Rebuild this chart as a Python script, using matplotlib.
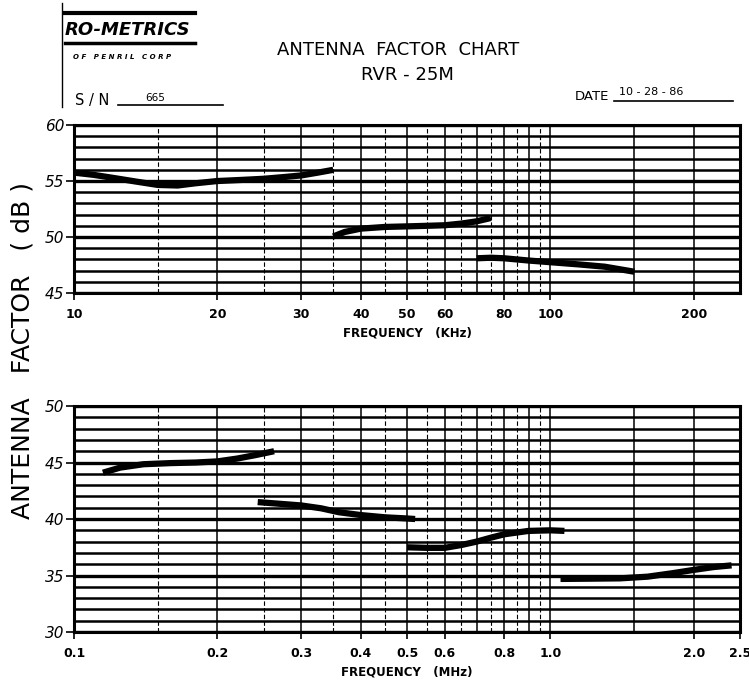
import numpy as np
import matplotlib.pyplot as plt
from matplotlib.lines import Line2D

# ---- data ----
khz_grid_major = [10, 20, 30, 40, 50, 60, 70, 80, 90, 100, 150, 200]
khz_grid_minor = [15, 25, 35, 45, 55, 65, 75, 85, 95]
khz_ticks = [10, 20, 30, 40, 50, 60, 80, 100, 200]
khz_tick_labels = ['10', '20', '30', '40', '50', '60', '80', '100', '200']

mhz_grid_major = [0.1, 0.2, 0.3, 0.4, 0.5, 0.6, 0.7, 0.8, 0.9, 1.0, 1.5, 2.0]
mhz_grid_minor = [0.15, 0.25, 0.35, 0.45, 0.55, 0.65, 0.75, 0.85, 0.95]
mhz_ticks = [0.1, 0.2, 0.3, 0.4, 0.5, 0.6, 0.8, 1.0, 2.0, 2.5]
mhz_tick_labels = ['0.1', '0.2', '0.3', '0.4', '0.5', '0.6', '0.8', '1.0', '2.0', '2.5']

# top chart (kHz) segments
seg1_f = [10, 11, 12, 13.5, 15, 16.5, 18, 20, 22.5, 25, 27.5, 30, 32.5, 35]
seg1_af = [55.75, 55.55, 55.3, 54.95, 54.65, 54.6, 54.8, 55.0, 55.1, 55.2, 55.35, 55.5, 55.75, 56.0]
seg2_f = [35, 37, 40, 45, 50, 55, 60, 65, 70, 75]
seg2_af = [50.05, 50.45, 50.75, 50.9, 50.95, 51.0, 51.05, 51.2, 51.4, 51.7]
seg3_f = [70, 75, 80, 90, 100, 115, 130, 150]
seg3_af = [48.1, 48.15, 48.1, 47.9, 47.75, 47.55, 47.35, 46.9]

# bottom chart (MHz) segments
seg4_f = [0.115, 0.125, 0.14, 0.16, 0.18, 0.2, 0.22, 0.24, 0.263]
seg4_af = [44.1, 44.55, 44.85, 44.95, 45.0, 45.1, 45.35, 45.65, 46.0]
seg5_f = [0.243, 0.27, 0.3, 0.33, 0.36, 0.4, 0.45, 0.5, 0.52]
seg5_af = [41.5, 41.35, 41.2, 40.95, 40.6, 40.35, 40.15, 40.05, 40.0]
seg6_f = [0.5, 0.55, 0.6, 0.65, 0.7, 0.75, 0.8, 0.9, 1.0, 1.07]
seg6_af = [37.5, 37.45, 37.45, 37.7, 38.0, 38.35, 38.65, 38.95, 39.0, 38.95]
seg7_f = [1.05, 1.2, 1.4, 1.6, 1.8, 2.0, 2.2, 2.4]
seg7_af = [34.7, 34.72, 34.75, 34.9, 35.2, 35.5, 35.75, 35.9]

fig = plt.figure(figsize=(7.49, 6.87), dpi=100)
fig.patch.set_facecolor('white')

ax1 = fig.add_axes([0.0988, 0.5735, 0.8892, 0.2445])
ax2 = fig.add_axes([0.0988, 0.0800, 0.8892, 0.3290])


def draw_grid(ax, fmin, fmax, ymin, ymax, major, minor, ticks, labels, ylabels):
    ax.set_xscale('log')
    ax.set_xlim(fmin, fmax)
    ax.set_ylim(ymin, ymax)
    for v in np.arange(ymin, ymax + 1):
        lw = 2.4 if v % 5 == 0 else 1.8
        ax.axhline(v, color='black', lw=lw, zorder=1)
    for f in major:
        ax.axvline(f, color='black', lw=1.1, zorder=1)
    for f in minor:
        ax.axvline(f, color='black', lw=0.8, ls=(0, (4, 2)), zorder=1)
    ax.set_xticks(ticks)
    ax.set_xticklabels(labels, fontsize=9, fontweight='bold')
    ax.xaxis.set_minor_locator(plt.NullLocator())
    ax.tick_params(axis='x', length=5, width=1.2, pad=6)
    ax.set_yticks(ylabels)
    ax.set_yticklabels([str(v) for v in ylabels], fontsize=11, fontstyle='italic')
    ax.tick_params(axis='y', length=6, width=1.2, pad=1)
    for s in ['left', 'right', 'top', 'bottom']:
        ax.spines[s].set_linewidth(2.2)


draw_grid(ax1, 10, 250, 45, 60, khz_grid_major, khz_grid_minor,
          khz_ticks, khz_tick_labels, [45, 50, 55, 60])
draw_grid(ax2, 0.1, 2.5, 30, 50, mhz_grid_major, mhz_grid_minor,
          mhz_ticks, mhz_tick_labels, [30, 35, 40, 45, 50])

for f, a in [(seg1_f, seg1_af), (seg2_f, seg2_af), (seg3_f, seg3_af)]:
    ax1.plot(f, a, color='black', lw=4.5, solid_capstyle='butt', zorder=3)
for f, a in [(seg4_f, seg4_af), (seg5_f, seg5_af), (seg6_f, seg6_af), (seg7_f, seg7_af)]:
    ax2.plot(f, a, color='black', lw=4.5, solid_capstyle='butt', zorder=3)

ax1.set_xlabel('FREQUENCY   (KHz)', fontsize=8.5, fontweight='bold', labelpad=4)
ax2.set_xlabel('FREQUENCY   (MHz)', fontsize=8.5, fontweight='bold', labelpad=4)

# y label shared by both charts
fig.text(0.030, 0.49, 'ANTENNA   FACTOR   ( dB )', rotation=90, fontsize=18,
         ha='center', va='center')

# header
fig.text(0.532, 0.927, 'ANTENNA  FACTOR  CHART', fontsize=13, ha='center', va='center')
fig.text(0.544, 0.891, 'RVR - 25M', fontsize=13, ha='center', va='center')
fig.text(0.100, 0.854, 'S / N', fontsize=10.5, ha='left', va='center')
fig.text(0.194, 0.858, '665', fontsize=7.5, ha='left', va='center')
fig.add_artist(Line2D([0.158, 0.298], [0.847, 0.847], color='black', lw=1.2))
fig.text(0.768, 0.860, 'DATE', fontsize=9.5, ha='left', va='center')
fig.text(0.826, 0.866, '10 - 28 - 86', fontsize=8, ha='left', va='center')
fig.add_artist(Line2D([0.820, 0.979], [0.853, 0.853], color='black', lw=1.2))

# logo
fig.text(0.170, 0.956, 'RO-METRICS', fontsize=13, fontweight='bold', fontstyle='italic',
         ha='center', va='center')
fig.text(0.097, 0.917, 'O F   P E N R I L   C O R P', fontsize=5, fontweight='bold',
         fontstyle='italic', ha='left', va='center')
fig.add_artist(Line2D([0.087, 0.260], [0.981, 0.981], color='black', lw=3))
fig.add_artist(Line2D([0.087, 0.260], [0.937, 0.937], color='black', lw=2.5))
fig.add_artist(Line2D([0.083, 0.083], [0.844, 0.996], color='black', lw=1))

fig.savefig('out.png', dpi=100, facecolor='white')
